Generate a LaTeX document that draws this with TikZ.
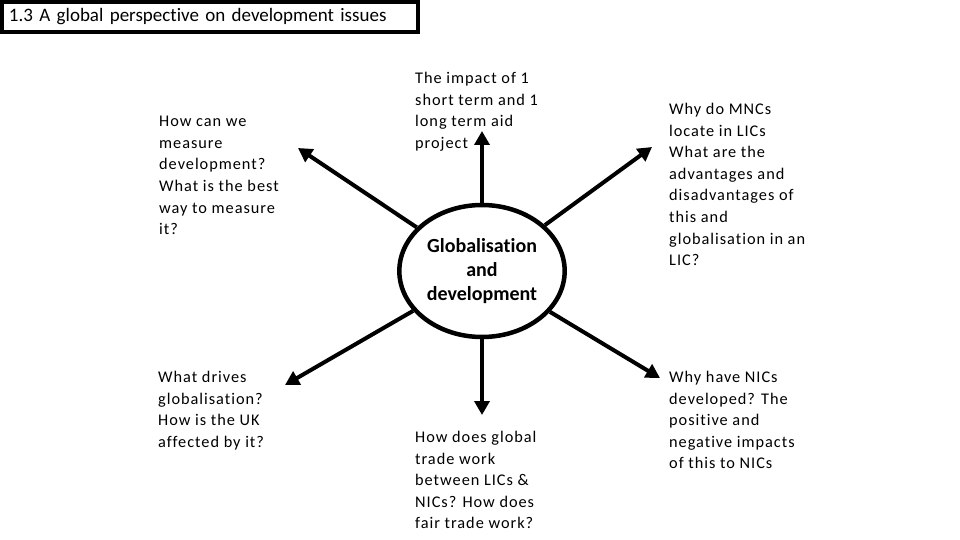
\documentclass[tikz,border=0pt]{standalone}
\usepackage{fontspec}
\setmainfont{Carlito}[Ligatures=NoCommon]
\newfontfamily\qfont{Carlito}[LetterSpace=6,Ligatures=NoCommon]
\newfontfamily\headfont{Carlito}[Ligatures=NoCommon]
\usetikzlibrary{arrows.meta,shapes.geometric}

\tikzset{
  question/.style={anchor=north west, align=left, inner sep=0pt,
    font=\qfont\fontsize{16.3}{21.6}\selectfont},
  spoke/.style={line width=4pt, -{Triangle[length=14pt,width=15pt]}},
}

\begin{document}
\begin{tikzpicture}[x=1pt,y=-1pt]
  \useasboundingbox (0,0) rectangle (960,540);
  % Title in its box
  \node[draw, line width=4pt, anchor=north west, minimum width=416pt,
    minimum height=30pt, inner xsep=7pt, text width=402pt, align=left,
    font=\headfont\fontsize{19}{22}\selectfont] (title) at (0,0)
    {1.3 A global perspective on development issues};
  % Central ellipse
  \node[ellipse, draw, line width=4.5pt, minimum width=164pt, minimum height=132pt,
    align=center, font=\bfseries\fontsize{20}{24}\selectfont] (hub) at (482,271)
    {Globalisation\\and\\development};
  % Arrow tips
  \coordinate (tipN) at (482,131);
  \coordinate (tipNW) at (298,148);
  \coordinate (tipNE) at (652,147);
  \coordinate (tipSW) at (285,385);
  \coordinate (tipS) at (482,415);
  \coordinate (tipSE) at (660,378);
  \draw[spoke] (hub) -- (tipN);
  \draw[spoke] (hub) -- (tipNW);
  \draw[spoke] (hub) -- (tipNE);
  \draw[spoke] (hub) -- (tipSW);
  \draw[spoke] (hub) -- (tipS);
  \draw[spoke] (hub) -- (tipSE);
  % Questions round the ellipse
  \node[question] (qmeasure) at (159,116)
    {How can we\\measure\\development?\\What is the best\\way to measure\\it?};
  \node[question] (qaid) at (415,72)
    {The impact of 1\\short term and 1\\long term aid\\project};
  \node[question] (qmnc) at (669,103)
    {Why do MNCs\\locate in LICs\\What are the\\advantages and\\disadvantages of\\this and\\globalisation in an\\LIC?};
  \node[question] (qdrive) at (158,371)
    {What drives\\globalisation?\\How is the UK\\affected by it?};
  \node[question] (qtrade) at (415,431)
    {How does global\\trade work\\between LICs \&\\NICs? How does\\fair trade work?};
  \node[question] (qnic) at (669,371)
    {Why have NICs\\developed? The\\positive and\\negative impacts\\of this to NICs};
\end{tikzpicture}
\end{document}
